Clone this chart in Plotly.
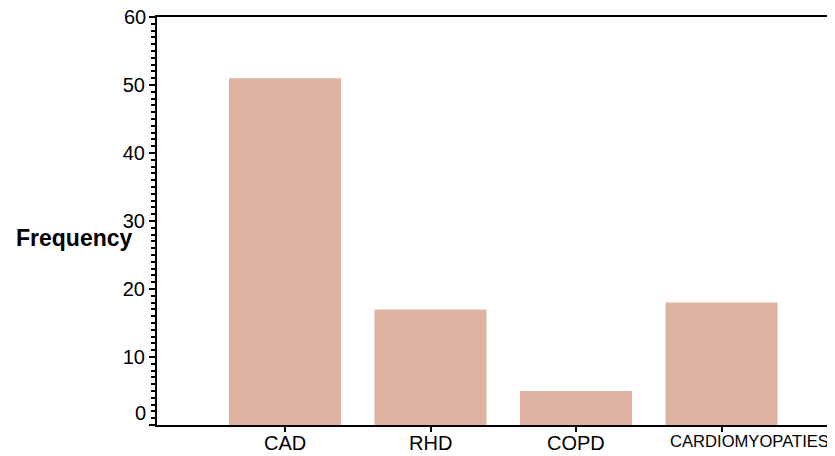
import plotly.graph_objects as go

categories = ["CAD", "RHD", "COPD", "CARDIOMYOPATIES"]
frequency = [51, 17, 5, 18]
y_ticks = [0, 10, 20, 30, 40, 50, 60]

# page has an 8px body offset; size the figure so the plot lands where the reference has it
W, H = 827, 448
L, T, B, R = 149, 9, 31, 0
plot_w = W - L - R
plot_h = H - T - B
x_range = [-0.88, 3.78]
y_range = [0, 60]

fig = go.Figure()
fig.add_trace(go.Bar(
    x=list(range(len(categories))),
    y=frequency,
    width=0.77,
    marker=dict(color="#DEB3A1", line=dict(width=0)),
))

annotations = [dict(
    text="<b>Frequency</b>",
    x=(127 - L) / plot_w, y=(T + plot_h - 230) / plot_h,
    xref="paper", yref="paper",
    showarrow=False, xanchor="right", yanchor="middle",
    font=dict(size=23, color="black"),
)]
# category labels under the ticks; the long last one is kept inside the figure
for i, name in enumerate(categories):
    last = i == len(categories) - 1
    annotations.append(dict(
        text=name,
        x=(x_range[1] if last else i), xref="x",
        y=0, yref="paper", yanchor="top", yshift=-5,
        xanchor=("right" if last else "center"), xshift=(-4 if last else 0),
        showarrow=False,
        font=dict(size=(16.6 if last else 20), color="black"),
    ))
# end labels of the y axis (0 nudged up off the x axis, 60 at the top edge)
for v in (y_ticks[0], y_ticks[-1]):
    annotations.append(dict(
        text=str(v), x=0, xref="paper", xanchor="right", xshift=-9,
        y=v, yref="y", yanchor="middle", yshift=(12 if v == y_ticks[0] else 0),
        showarrow=False, font=dict(size=20, color="black"),
    ))

tick_text = ["" if v in (y_ticks[0], y_ticks[-1]) else str(v) for v in y_ticks]

fig.update_layout(
    width=W, height=H,
    margin=dict(l=L, r=R, t=T, b=B, autoexpand=False),
    plot_bgcolor="white", paper_bgcolor="white",
    showlegend=False,
    font=dict(family="Liberation Sans, Arial, sans-serif", size=20, color="black"),
    xaxis=dict(
        range=x_range,
        tickvals=list(range(len(categories))),
        showticklabels=False,
        showline=True, linecolor="black", linewidth=2, mirror=True,
        ticks="outside", ticklen=5, tickwidth=2, tickcolor="black",
        showgrid=False, zeroline=False,
        automargin=False,
    ),
    yaxis=dict(
        range=y_range,
        tickvals=y_ticks,
        ticktext=tick_text,
        showline=True, linecolor="black", linewidth=2,
        ticks="outside", ticklen=6, tickwidth=2, tickcolor="black",
        minor=dict(dtick=1, ticks="outside", ticklen=4, tickwidth=1.5, tickcolor="black", showgrid=False),
        showgrid=False, zeroline=False,
        tickfont=dict(size=20),
        automargin=False,
    ),
    annotations=annotations,
)

fig.write_html("out.html")
